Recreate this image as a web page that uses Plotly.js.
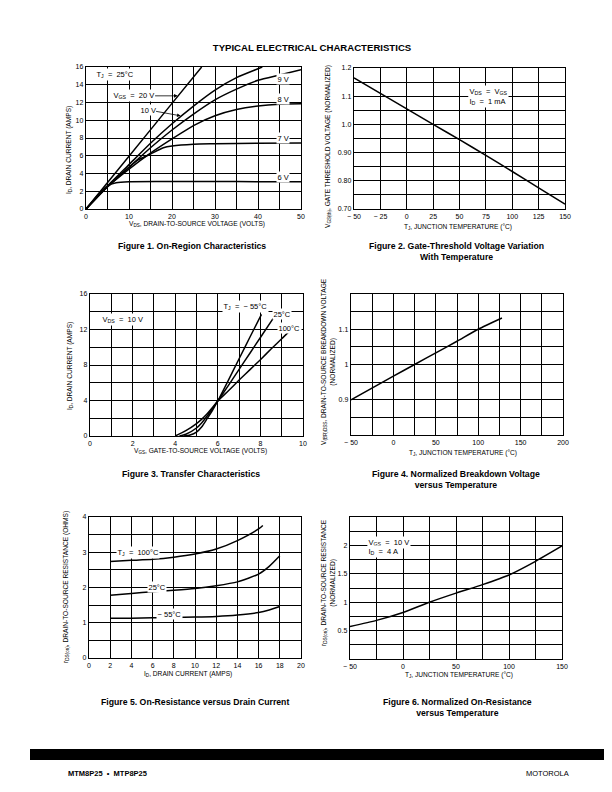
<!DOCTYPE html>
<html><head><meta charset="utf-8">
<script src="https://cdn.plot.ly/plotly-3.0.1.min.js"></script>
<style>html,body{margin:0;padding:0;background:#fff}#chart{width:612px;height:792px}</style>
</head><body><div id="chart"></div>
<script>
// ---------- Figure 1: On-Region Characteristics ----------
const f1_vds_20V = [0, 10, 20, 26.9];
const f1_id_20V  = [0, 5.95, 11.9, 16];
const f1_vds_10V = [0, 5, 10, 15, 20, 25, 30, 35, 40, 41];
const f1_id_10V  = [0, 2.6, 5.0, 7.4, 9.6, 11.6, 13.4, 14.8, 15.8, 16.0];
const f1_vds_9V  = [0, 5, 10, 15, 20, 25, 30, 35, 40, 45, 50];
const f1_id_9V   = [0, 2.5, 4.7, 6.9, 8.9, 10.7, 12.3, 13.5, 14.5, 15.1, 15.7];
const f1_vds_8V  = [0, 5, 10, 15, 20, 25, 30, 35, 40, 45, 50];
const f1_id_8V   = [0, 2.5, 4.5, 6.3, 7.9, 9.4, 10.5, 11.2, 11.6, 11.8, 11.85];
const f1_vds_7V  = [0, 5, 8, 10, 12, 15, 18, 20, 25, 30, 40, 50];
const f1_id_7V   = [0, 2.5, 3.9, 4.7, 5.5, 6.2, 6.9, 7.1, 7.3, 7.35, 7.42, 7.45];
const f1_vds_6V  = [0, 3, 5, 7, 10, 20, 30, 40, 50];
const f1_id_6V   = [0, 1.7, 2.6, 2.95, 3.08, 3.1, 3.1, 3.08, 3.07];
const f1_xticks = [0, 10, 20, 30, 40, 50];
const f1_yticks = [0, 2, 4, 6, 8, 10, 12, 14, 16];

// ---------- Figure 2: Gate-Threshold Voltage vs Temperature ----------
const f2_tj  = [-50, -25, 0, 25, 50, 75, 100, 125, 150];
const f2_vth = [1.165, 1.11, 1.055, 1.0, 0.946, 0.89, 0.833, 0.775, 0.717];
const f2_xticks = [-50, -25, 0, 25, 50, 75, 100, 125, 150];
const f2_xlabels = ['− 50', '− 25', '0', '25', '50', '75', '100', '125', '150'];
const f2_yticks = [0.7, 0.8, 0.9, 1.0, 1.1, 1.2];
const f2_ylabels = ['0.70', '0.80', '0.90', '1.0', '1.1', '1.2'];

// ---------- Figure 3: Transfer Characteristics ----------
const f3_vgs_m55 = [4.4, 4.7, 5.0, 5.25, 5.5, 5.75, 6.0, 6.5, 7.0, 7.5, 8.05];
const f3_id_m55  = [0, 0.12, 0.45, 1.05, 1.96, 2.9, 3.95, 6.3, 8.7, 11.1, 13.7];
const f3_vgs_25  = [4.2, 4.5, 5.0, 5.25, 5.5, 5.75, 6.0, 6.5, 7.0, 7.5, 8.0, 8.6];
const f3_id_25   = [0, 0.2, 0.9, 1.5, 2.25, 3.1, 3.95, 5.7, 7.5, 9.3, 11.1, 13.25];
const f3_vgs_100 = [4.0, 4.5, 5.0, 5.25, 5.5, 5.75, 6.0, 6.5, 7.0, 7.5, 8.0, 8.5, 9.0, 9.4];
const f3_id_100  = [0, 0.6, 1.4, 1.9, 2.5, 3.2, 3.95, 5.1, 6.3, 7.45, 8.6, 9.8, 10.95, 11.9];
const f3_xticks = [0, 2, 4, 6, 8, 10];
const f3_yticks = [0, 4, 8, 12, 16];

// ---------- Figure 4: Normalized Breakdown Voltage vs Temperature ----------
const f4_tj  = [-50, 0, 25, 50, 75, 100, 128];
const f4_vbr = [0.9, 0.967, 1.0, 1.033, 1.066, 1.1, 1.132];
const f4_xticks = [-50, 0, 50, 100, 150, 200];
const f4_xlabels = ['− 50', '0', '50', '100', '150', '200'];
const f4_yticks = [0.9, 1, 1.1];
const f4_ylabels = ['0.9', '1', '1.1'];

// ---------- Figure 5: On-Resistance vs Drain Current ----------
const f5_id_100  = [2, 4, 6, 8, 10, 12, 14, 16, 16.4];
const f5_r_100   = [2.74, 2.77, 2.8, 2.86, 2.95, 3.09, 3.33, 3.66, 3.76];
const f5_id_25   = [2, 4, 6, 8, 10, 12, 14, 16, 17, 18];
const f5_r_25    = [1.78, 1.83, 1.88, 1.92, 1.97, 2.05, 2.16, 2.38, 2.6, 2.9];
const f5_id_m55  = [2, 4, 6, 8, 10, 12, 14, 16, 17, 18];
const f5_r_m55   = [1.13, 1.13, 1.14, 1.15, 1.16, 1.18, 1.22, 1.29, 1.36, 1.46];
const f5_xticks = [0, 2, 4, 6, 8, 10, 12, 14, 16, 18, 20];
const f5_yticks = [0, 1, 2, 3, 4];

// ---------- Figure 6: Normalized On-Resistance vs Temperature ----------
const f6_tj = [-50, -25, 0, 25, 50, 75, 100, 125, 150];
const f6_r  = [0.57, 0.68, 0.82, 1.0, 1.16, 1.31, 1.48, 1.72, 1.99];
const f6_xticks = [-50, 0, 50, 100, 150];
const f6_xlabels = ['− 50', '0', '50', '100', '150'];
const f6_yticks = [0.5, 1, 1.5, 2];
const f6_ylabels = ['0.5', '1', '1.5', '2'];

// ---------- helpers ----------
const W = 612, H = 792;
const FONT = 'Liberation Sans Narrow, Arial Narrow, Liberation Sans, Arial, sans-serif';
const BFONT = 'Liberation Sans, Arial, Helvetica, sans-serif';
const GRID = '#000';
const px = (a, b) => [a / W, b / W];
const py = (top, bot) => [1 - bot / H, 1 - top / H];

function axis(domain, range, tickvals, ticktext, minorDtick, minorTick0, anchor) {
  const a = {
    domain: domain, range: range, anchor: anchor,
    tickmode: 'array', tickvals: tickvals, ticktext: ticktext || tickvals.map(String),
    showgrid: true, gridcolor: GRID, gridwidth: 1,
    zeroline: false, showline: true, mirror: true, linecolor: '#000', linewidth: 1.3,
    ticks: '', ticklen: 0, fixedrange: true,
    tickfont: {family: FONT, size: 7, color: '#000'}
  };
  if (minorDtick) a.minor = {tickmode: 'linear', tick0: minorTick0, dtick: minorDtick,
    showgrid: true, gridcolor: GRID, gridwidth: 1, ticks: ''};
  return a;
}
function line(x, y, xa, ya) {
  return {x: x, y: y, xaxis: xa, yaxis: ya, type: 'scatter', mode: 'lines',
    line: {color: '#000', width: 1.5, shape: 'spline', smoothing: 0.6}, hoverinfo: 'skip'};
}

const traces = [
  line(f1_vds_20V, f1_id_20V, 'x', 'y'),
  line(f1_vds_10V, f1_id_10V, 'x', 'y'),
  line(f1_vds_9V, f1_id_9V, 'x', 'y'),
  line(f1_vds_8V, f1_id_8V, 'x', 'y'),
  line(f1_vds_7V, f1_id_7V, 'x', 'y'),
  line(f1_vds_6V, f1_id_6V, 'x', 'y'),
  line(f2_tj, f2_vth, 'x2', 'y2'),
  line(f3_vgs_m55, f3_id_m55, 'x3', 'y3'),
  line(f3_vgs_25, f3_id_25, 'x3', 'y3'),
  line(f3_vgs_100, f3_id_100, 'x3', 'y3'),
  line(f4_tj, f4_vbr, 'x4', 'y4'),
  line(f5_id_100, f5_r_100, 'x5', 'y5'),
  line(f5_id_25, f5_r_25, 'x5', 'y5'),
  line(f5_id_m55, f5_r_m55, 'x5', 'y5'),
  line(f6_tj, f6_r, 'x6', 'y6')
];

function lab(text, x, y, xref, yref, opts) {
  return Object.assign({text: text, x: x, y: y, xref: xref, yref: yref, showarrow: false,
    xanchor: 'center', yanchor: 'middle',
    font: {family: FONT, size: 7.5, color: '#000'}, bgcolor: '#fff', borderpad: 0.5}, opts || {});
}
function ptitle(text, x, y, opts) {
  return Object.assign({text: text, x: x / W, y: 1 - y / H, xref: 'paper', yref: 'paper',
    xanchor: 'center', yanchor: 'middle',
    showarrow: false, font: {family: FONT, size: 6.6, color: '#000'}}, opts || {});
}
function caption(text, x, y) {
  return {text: '<b>' + text + '</b>', x: x / W, y: 1 - y / H, xref: 'paper', yref: 'paper',
    xanchor: 'center', yanchor: 'middle',
    showarrow: false, font: {family: BFONT, size: 8.7, color: '#000'}, align: 'center'};
}

const annotations = [
  // Figure 1 labels
  lab('T<sub>J</sub>  =  25°C', 2.2, 15.2, 'x', 'y', {xanchor: 'left'}),
  lab('V<sub>GS</sub>  =  20 V', 21.3, 12.75, 'x', 'y', {showarrow: true, ax: -44, ay: 0,
     arrowhead: 2, arrowsize: 0.9, arrowwidth: 0.8, arrowcolor: '#000'}),
  lab('10 V', 22.0, 10.5, 'x', 'y', {showarrow: true, ax: -33, ay: -6,
     arrowhead: 2, arrowsize: 0.9, arrowwidth: 0.8, arrowcolor: '#000'}),
  lab('9 V', 45.8, 14.6, 'x', 'y'),
  lab('8 V', 45.8, 12.4, 'x', 'y'),
  lab('7 V', 45.8, 7.95, 'x', 'y'),
  lab('6 V', 45.8, 3.65, 'x', 'y'),
  // Figure 2 labels
  lab('V<sub>DS</sub>  =  V<sub>GS</sub>', 58, 1.115, 'x2', 'y2', {xanchor: 'left'}),
  lab('I<sub>D</sub>  =  1 mA', 58, 1.08, 'x2', 'y2', {xanchor: 'left'}),
  // Figure 3 labels
  lab('V<sub>DS</sub>  =  10 V', 1.53, 13.1, 'x3', 'y3'),
  lab('T<sub>J</sub>  =  − 55°C', 7.3, 14.55, 'x3', 'y3'),
  lab('25°C', 9.0, 13.7, 'x3', 'y3'),
  lab('100°C', 9.35, 12.2, 'x3', 'y3'),
  // Figure 5 labels
  lab('T<sub>J</sub>  =  100°C', 4.63, 2.98, 'x5', 'y5'),
  lab('25°C', 6.4, 2.02, 'x5', 'y5'),
  lab('− 55°C', 7.56, 1.26, 'x5', 'y5'),
  // Figure 6 labels
  lab('V<sub>GS</sub>  =  10 V', -34, 2.05, 'x6', 'y6', {xanchor: 'left'}),
  lab('I<sub>D</sub>  =  4 A', -34, 1.89, 'x6', 'y6', {xanchor: 'left'}),

  // axis titles
  ptitle('I<sub>D</sub>, DRAIN CURRENT (AMPS)', 69, 150, {textangle: -90}),
  ptitle('V<sub>DS</sub>, DRAIN-TO-SOURCE VOLTAGE (VOLTS)', 197, 224),
  ptitle('V<sub>GS(th)</sub>, GATE THRESHOLD VOLTAGE (NORMALIZED)', 328, 147, {textangle: -90}),
  ptitle('T<sub>J</sub>, JUNCTION TEMPERATURE (°C)', 458, 227),
  ptitle('I<sub>D</sub>, DRAIN CURRENT (AMPS)', 70, 366, {textangle: -90}),
  ptitle('V<sub>GS</sub>, GATE-TO-SOURCE VOLTAGE (VOLTS)', 200, 451),
  ptitle('V<sub>(BR)DSS</sub>, DRAIN-TO-SOURCE BREAKDOWN VOLTAGE<br>(NORMALIZED)', 328, 362, {textangle: -90}),
  ptitle('T<sub>J</sub>, JUNCTION TEMPERATURE (°C)', 463, 453),
  ptitle('r<sub>DS(on)</sub>, DRAIN-TO-SOURCE RESISTANCE (OHMS)', 66, 587, {textangle: -90}),
  ptitle('I<sub>D</sub>, DRAIN CURRENT (AMPS)', 188, 674),
  ptitle('r<sub>DS(on)</sub>, DRAIN-TO-SOURCE RESISTANCE<br>(NORMALIZED)', 328, 583, {textangle: -90}),
  ptitle('T<sub>J</sub>, JUNCTION TEMPERATURE (°C)', 459, 675),

  // captions
  caption('Figure 1. On-Region Characteristics', 192, 246),
  caption('Figure 2. Gate-Threshold Voltage Variation<br>With Temperature', 456, 251),
  caption('Figure 3. Transfer Characteristics', 191, 474),
  caption('Figure 4. Normalized Breakdown Voltage<br>versus Temperature', 456, 479),
  caption('Figure 5. On-Resistance versus Drain Current', 195, 702),
  caption('Figure 6. Normalized On-Resistance<br>versus Temperature', 457, 707),

  // footer
  {text: '<b>MTM8P25  •  MTP8P25</b>', x: 66 / W, y: 1 - 773 / H, xref: 'paper', yref: 'paper',
   xanchor: 'left', yanchor: 'middle', showarrow: false, font: {family: BFONT, size: 7.5, color: '#000'}},
  {text: 'MOTOROLA', x: 571 / W, y: 1 - 773 / H, xref: 'paper', yref: 'paper',
   xanchor: 'right', yanchor: 'middle', showarrow: false, font: {family: BFONT, size: 7.5, color: '#000'}}
];

const layout = {
  width: W, height: H, margin: {l: 0, r: 0, t: 0, b: 0},
  paper_bgcolor: '#fff', plot_bgcolor: '#fff', showlegend: false,
  title: {text: '<b>TYPICAL ELECTRICAL CHARACTERISTICS</b>', x: 312 / W, xanchor: 'center',
          y: 1 - 48 / H, yanchor: 'middle', xref: 'paper', yref: 'paper',
          font: {family: BFONT, size: 9.6, color: '#000'}},
  xaxis:  axis(px(86, 301), [0, 50], f1_xticks, null, 5, 0, 'y'),
  yaxis:  axis(py(67, 209), [0, 16], f1_yticks, null, null, null, 'x'),
  xaxis2: axis(px(354, 565), [-50, 150], f2_xticks, f2_xlabels, null, null, 'y2'),
  yaxis2: axis(py(68, 209), [0.7, 1.2], f2_yticks, f2_ylabels, 0.05, 0.7, 'x2'),
  xaxis3: axis(px(90, 303), [0, 10], f3_xticks, null, 1, 0, 'y3'),
  yaxis3: axis(py(294, 436), [0, 16], f3_yticks, null, 2, 0, 'x3'),
  xaxis4: axis(px(351, 563), [-50, 200], f4_xticks, f4_xlabels, 25, -50, 'y4'),
  yaxis4: axis(py(294, 435), [0.8, 1.2], f4_yticks, f4_ylabels, 0.05, 0.8, 'x4'),
  xaxis5: axis(px(89, 301), [0, 20], f5_xticks, null, null, null, 'y5'),
  yaxis5: axis(py(517, 658), [0, 4], f5_yticks, null, 0.5, 0, 'x5'),
  xaxis6: axis(px(350, 562), [-50, 150], f6_xticks, f6_xlabels, 25, -50, 'y6'),
  yaxis6: axis(py(517, 659), [0, 2.5], f6_yticks, f6_ylabels, 0.25, 0, 'x6'),
  annotations: annotations,
  shapes: [{type: 'rect', xref: 'paper', yref: 'paper', x0: 30 / W, x1: 604 / W,
            y0: 1 - 760 / H, y1: 1 - 749 / H, fillcolor: '#000', line: {width: 0}}]
};

Plotly.newPlot('chart', traces, layout, {staticPlot: true, displayModeBar: false});
</script></body></html>
